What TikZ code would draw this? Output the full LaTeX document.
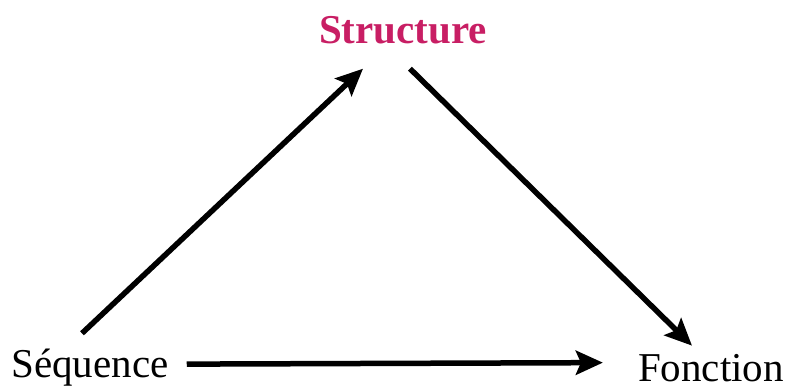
\documentclass[tikz,border=0pt]{standalone}
\usepackage{fontspec}
\setmainfont{Liberation Serif}
\usetikzlibrary{arrows.meta}
\definecolor{structpink}{RGB}{200,30,100}

\begin{document}
\begin{tikzpicture}[
  x=1pt, y=-1pt,
  term/.style={inner sep=0pt, anchor=base, font=\fontsize{41}{48}\selectfont},
  arrow/.style={-{Stealth[length=27pt, width=24pt, inset=5pt]}, line width=5.5pt}
]
\useasboundingbox (0,0) rectangle (789,389);

% Nodes
\node[term, text=structpink, font=\fontsize{41}{48}\selectfont\bfseries] (struct) at (403,43) {Structure};
\node[term] (seq) at (90,377) {Séquence};
\node[term] (fonc) at (711,381) {Fonction};

% Arrows
\draw[arrow] ([shift={(-8,-15)}]seq.north) -- ([shift={(-40,25)}]struct.south);
\draw[arrow] ([shift={(7,25)}]struct.south) -- ([shift={(-19,-8)}]fonc.north);
\draw[arrow] ([shift={(18,-3)}]seq.east) -- ([shift={(-35,-5)}]fonc.west);

\end{tikzpicture}
\end{document}
